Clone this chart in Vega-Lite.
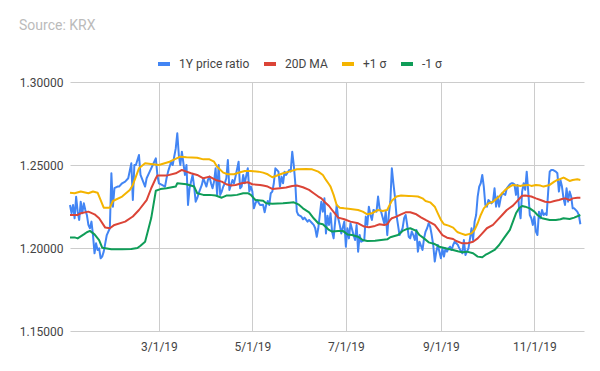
{
"$schema":"https://vega.github.io/schema/vega-lite/v6.json",
"width":514,"height":249,
"autosize":{"type":"none"},
"padding":{"left":70,"top":82,"right":16,"bottom":40},
"background":"white",
"config":{"font":"Roboto","view":{"stroke":null},
 "axis":{"labelFont":"Roboto","labelFontSize":12,"labelColor":"#444444","gridColor":"#cccccc","gridWidth":1,"domain":false,"ticks":false,"title":null},
 "legend":{"labelFont":"Roboto","labelFontSize":12,"labelColor":"#444444","title":null,"gridAlign":"none"}},
"title":{"text":"Source: KRX","anchor":"start","frame":"group","dx":-51,"offset":23,"fontSize":14,"fontWeight":"normal","color":"#bbbbbb","font":"Roboto"},
"datasets":{
"ratio":[
{"d":"2019-01-02","v":1.2259},{"d":"2019-01-03","v":1.2209},{"d":"2019-01-04","v":1.2259},{"d":"2019-01-05","v":1.2179},{"d":"2019-01-06","v":1.2309},{"d":"2019-01-07","v":1.2219},{"d":"2019-01-08","v":1.2169},{"d":"2019-01-09","v":1.2279},{"d":"2019-01-10","v":1.2209},{"d":"2019-01-11","v":1.2269},{"d":"2019-01-12","v":1.2229},{"d":"2019-01-13","v":1.2199},{"d":"2019-01-14","v":1.2139},{"d":"2019-01-15","v":1.2119},{"d":"2019-01-16","v":1.2159},{"d":"2019-01-17","v":1.2078},{"d":"2019-01-18","v":1.1968},{"d":"2019-01-19","v":1.2028},{"d":"2019-01-20","v":1.1988},{"d":"2019-01-21","v":1.1998},{"d":"2019-01-22","v":1.1938},{"d":"2019-01-23","v":1.1948},{"d":"2019-01-24","v":1.1978},{"d":"2019-01-25","v":1.2028},{"d":"2019-01-26","v":1.2078},{"d":"2019-01-28","v":1.2119},{"d":"2019-01-29","v":1.2450},{"d":"2019-01-30","v":1.2249},{"d":"2019-01-31","v":1.2360},{"d":"2019-02-02","v":1.2370},{"d":"2019-02-03","v":1.2370},{"d":"2019-02-05","v":1.2390},{"d":"2019-02-07","v":1.2400},{"d":"2019-02-09","v":1.2420},{"d":"2019-02-11","v":1.2510},{"d":"2019-02-12","v":1.2289},{"d":"2019-02-13","v":1.2500},{"d":"2019-02-14","v":1.2500},{"d":"2019-02-16","v":1.2560},{"d":"2019-02-17","v":1.2440},{"d":"2019-02-20","v":1.2370},{"d":"2019-02-21","v":1.2420},{"d":"2019-02-23","v":1.2460},{"d":"2019-02-25","v":1.2500},{"d":"2019-02-27","v":1.2540},{"d":"2019-02-28","v":1.2440},{"d":"2019-03-01","v":1.2390},{"d":"2019-03-03","v":1.2380},{"d":"2019-03-05","v":1.2370},{"d":"2019-03-06","v":1.2420},{"d":"2019-03-07","v":1.2460},{"d":"2019-03-09","v":1.2520},{"d":"2019-03-10","v":1.2500},{"d":"2019-03-12","v":1.2600},{"d":"2019-03-13","v":1.2691},{"d":"2019-03-14","v":1.2560},{"d":"2019-03-15","v":1.2500},{"d":"2019-03-16","v":1.2580},{"d":"2019-03-18","v":1.2440},{"d":"2019-03-19","v":1.2500},{"d":"2019-03-20","v":1.2259},{"d":"2019-03-21","v":1.2360},{"d":"2019-03-23","v":1.2440},{"d":"2019-03-24","v":1.2370},{"d":"2019-03-25","v":1.2279},{"d":"2019-03-26","v":1.2300},{"d":"2019-03-27","v":1.2330},{"d":"2019-03-29","v":1.2380},{"d":"2019-03-30","v":1.2420},{"d":"2019-04-01","v":1.2370},{"d":"2019-04-02","v":1.2410},{"d":"2019-04-03","v":1.2430},{"d":"2019-04-04","v":1.2390},{"d":"2019-04-05","v":1.2360},{"d":"2019-04-06","v":1.2400},{"d":"2019-04-07","v":1.2480},{"d":"2019-04-08","v":1.2320},{"d":"2019-04-09","v":1.2500},{"d":"2019-04-10","v":1.2320},{"d":"2019-04-11","v":1.2340},{"d":"2019-04-12","v":1.2370},{"d":"2019-04-13","v":1.2390},{"d":"2019-04-14","v":1.2420},{"d":"2019-04-15","v":1.2530},{"d":"2019-04-16","v":1.2350},{"d":"2019-04-17","v":1.2380},{"d":"2019-04-18","v":1.2410},{"d":"2019-04-19","v":1.2390},{"d":"2019-04-20","v":1.2430},{"d":"2019-04-22","v":1.2520},{"d":"2019-04-23","v":1.2360},{"d":"2019-04-24","v":1.2370},{"d":"2019-04-25","v":1.2440},{"d":"2019-04-26","v":1.2390},{"d":"2019-04-28","v":1.2480},{"d":"2019-04-29","v":1.2340},{"d":"2019-04-30","v":1.2370},{"d":"2019-05-01","v":1.2340},{"d":"2019-05-02","v":1.2239},{"d":"2019-05-03","v":1.2269},{"d":"2019-05-04","v":1.2289},{"d":"2019-05-06","v":1.2259},{"d":"2019-05-08","v":1.2260},{"d":"2019-05-09","v":1.2215},{"d":"2019-05-10","v":1.2259},{"d":"2019-05-11","v":1.2283},{"d":"2019-05-12","v":1.2259},{"d":"2019-05-13","v":1.2330},{"d":"2019-05-14","v":1.2340},{"d":"2019-05-15","v":1.2390},{"d":"2019-05-16","v":1.2480},{"d":"2019-05-17","v":1.2470},{"d":"2019-05-18","v":1.2460},{"d":"2019-05-19","v":1.2370},{"d":"2019-05-20","v":1.2430},{"d":"2019-05-21","v":1.2390},{"d":"2019-05-22","v":1.2460},{"d":"2019-05-23","v":1.2440},{"d":"2019-05-25","v":1.2470},{"d":"2019-05-26","v":1.2460},{"d":"2019-05-27","v":1.2580},{"d":"2019-05-28","v":1.2500},{"d":"2019-05-29","v":1.2390},{"d":"2019-05-30","v":1.2219},{"d":"2019-05-31","v":1.2199},{"d":"2019-06-02","v":1.2189},{"d":"2019-06-03","v":1.2173},{"d":"2019-06-04","v":1.2183},{"d":"2019-06-06","v":1.2159},{"d":"2019-06-07","v":1.2169},{"d":"2019-06-09","v":1.2149},{"d":"2019-06-10","v":1.2139},{"d":"2019-06-11","v":1.2119},{"d":"2019-06-12","v":1.2068},{"d":"2019-06-13","v":1.2119},{"d":"2019-06-14","v":1.2199},{"d":"2019-06-15","v":1.2279},{"d":"2019-06-16","v":1.2219},{"d":"2019-06-17","v":1.2299},{"d":"2019-06-18","v":1.2088},{"d":"2019-06-19","v":1.2195},{"d":"2019-06-20","v":1.2139},{"d":"2019-06-21","v":1.2209},{"d":"2019-06-22","v":1.2099},{"d":"2019-06-23","v":1.2058},{"d":"2019-06-24","v":1.2159},{"d":"2019-06-25","v":1.2259},{"d":"2019-06-26","v":1.2179},{"d":"2019-06-27","v":1.2139},{"d":"2019-06-28","v":1.2088},{"d":"2019-06-30","v":1.2159},{"d":"2019-07-01","v":1.2008},{"d":"2019-07-02","v":1.2119},{"d":"2019-07-03","v":1.2058},{"d":"2019-07-04","v":1.2149},{"d":"2019-07-06","v":1.2078},{"d":"2019-07-07","v":1.2048},{"d":"2019-07-08","v":1.2139},{"d":"2019-07-09","v":1.1978},{"d":"2019-07-10","v":1.2078},{"d":"2019-07-11","v":1.2038},{"d":"2019-07-13","v":1.2048},{"d":"2019-07-14","v":1.2189},{"d":"2019-07-15","v":1.2139},{"d":"2019-07-16","v":1.2249},{"d":"2019-07-17","v":1.2199},{"d":"2019-07-18","v":1.2169},{"d":"2019-07-19","v":1.2229},{"d":"2019-07-21","v":1.2219},{"d":"2019-07-22","v":1.2310},{"d":"2019-07-23","v":1.2239},{"d":"2019-07-24","v":1.2219},{"d":"2019-07-26","v":1.2149},{"d":"2019-07-27","v":1.2219},{"d":"2019-07-28","v":1.2078},{"d":"2019-07-29","v":1.2199},{"d":"2019-07-30","v":1.2279},{"d":"2019-07-31","v":1.2480},{"d":"2019-08-01","v":1.2390},{"d":"2019-08-02","v":1.2310},{"d":"2019-08-03","v":1.2199},{"d":"2019-08-04","v":1.2139},{"d":"2019-08-05","v":1.2078},{"d":"2019-08-07","v":1.2119},{"d":"2019-08-08","v":1.2179},{"d":"2019-08-09","v":1.2199},{"d":"2019-08-10","v":1.2139},{"d":"2019-08-11","v":1.2068},{"d":"2019-08-12","v":1.2058},{"d":"2019-08-13","v":1.2099},{"d":"2019-08-14","v":1.2078},{"d":"2019-08-15","v":1.2048},{"d":"2019-08-16","v":1.2109},{"d":"2019-08-17","v":1.1978},{"d":"2019-08-18","v":1.2038},{"d":"2019-08-20","v":1.1988},{"d":"2019-08-21","v":1.2058},{"d":"2019-08-22","v":1.2099},{"d":"2019-08-23","v":1.2119},{"d":"2019-08-24","v":1.2149},{"d":"2019-08-25","v":1.2129},{"d":"2019-08-26","v":1.2078},{"d":"2019-08-27","v":1.2018},{"d":"2019-08-28","v":1.1918},{"d":"2019-08-29","v":1.1978},{"d":"2019-08-30","v":1.2018},{"d":"2019-09-01","v":1.1938},{"d":"2019-09-02","v":1.1998},{"d":"2019-09-03","v":1.1948},{"d":"2019-09-04","v":1.1998},{"d":"2019-09-05","v":1.1978},{"d":"2019-09-06","v":1.1998},{"d":"2019-09-07","v":1.2008},{"d":"2019-09-08","v":1.1988},{"d":"2019-09-09","v":1.2018},{"d":"2019-09-10","v":1.2038},{"d":"2019-09-12","v":1.2020},{"d":"2019-09-13","v":1.1998},{"d":"2019-09-15","v":1.1968},{"d":"2019-09-16","v":1.2048},{"d":"2019-09-17","v":1.1958},{"d":"2019-09-18","v":1.1978},{"d":"2019-09-19","v":1.1998},{"d":"2019-09-20","v":1.2058},{"d":"2019-09-21","v":1.2119},{"d":"2019-09-22","v":1.2048},{"d":"2019-09-23","v":1.2159},{"d":"2019-09-24","v":1.2199},{"d":"2019-09-25","v":1.2310},{"d":"2019-09-26","v":1.2370},{"d":"2019-09-27","v":1.2390},{"d":"2019-09-28","v":1.2440},{"d":"2019-09-29","v":1.2370},{"d":"2019-09-30","v":1.2259},{"d":"2019-10-01","v":1.2249},{"d":"2019-10-02","v":1.2289},{"d":"2019-10-04","v":1.2269},{"d":"2019-10-05","v":1.2279},{"d":"2019-10-06","v":1.2360},{"d":"2019-10-07","v":1.2249},{"d":"2019-10-08","v":1.2310},{"d":"2019-10-09","v":1.2249},{"d":"2019-10-10","v":1.2299},{"d":"2019-10-11","v":1.2330},{"d":"2019-10-13","v":1.2320},{"d":"2019-10-14","v":1.2360},{"d":"2019-10-16","v":1.2384},{"d":"2019-10-17","v":1.2390},{"d":"2019-10-18","v":1.2390},{"d":"2019-10-19","v":1.2384},{"d":"2019-10-20","v":1.2320},{"d":"2019-10-21","v":1.2380},{"d":"2019-10-22","v":1.2239},{"d":"2019-10-23","v":1.2179},{"d":"2019-10-24","v":1.2340},{"d":"2019-10-25","v":1.2390},{"d":"2019-10-26","v":1.2350},{"d":"2019-10-27","v":1.2460},{"d":"2019-10-28","v":1.2340},{"d":"2019-10-29","v":1.2199},{"d":"2019-10-30","v":1.2179},{"d":"2019-10-31","v":1.2139},{"d":"2019-11-01","v":1.2189},{"d":"2019-11-02","v":1.2099},{"d":"2019-11-03","v":1.2078},{"d":"2019-11-04","v":1.2219},{"d":"2019-11-05","v":1.2179},{"d":"2019-11-06","v":1.2229},{"d":"2019-11-07","v":1.2199},{"d":"2019-11-08","v":1.2209},{"d":"2019-11-09","v":1.2199},{"d":"2019-11-10","v":1.2340},{"d":"2019-11-11","v":1.2460},{"d":"2019-11-12","v":1.2470},{"d":"2019-11-13","v":1.2470},{"d":"2019-11-15","v":1.2460},{"d":"2019-11-16","v":1.2450},{"d":"2019-11-17","v":1.2340},{"d":"2019-11-18","v":1.2410},{"d":"2019-11-19","v":1.2370},{"d":"2019-11-20","v":1.2299},{"d":"2019-11-21","v":1.2259},{"d":"2019-11-22","v":1.2360},{"d":"2019-11-23","v":1.2279},{"d":"2019-11-24","v":1.2340},{"d":"2019-11-25","v":1.2310},{"d":"2019-11-26","v":1.2239},{"d":"2019-11-27","v":1.2239},{"d":"2019-11-29","v":1.2219},{"d":"2019-11-30","v":1.2199},{"d":"2019-12-01","v":1.2143}
],
"bands":[
{"d":"2019-01-02","s":"20D MA","v":1.2199},{"d":"2019-01-07","s":"20D MA","v":1.2199},{"d":"2019-01-09","s":"20D MA","v":1.2209},{"d":"2019-01-14","s":"20D MA","v":1.2219},{"d":"2019-01-18","s":"20D MA","v":1.2203},{"d":"2019-01-21","s":"20D MA","v":1.2179},{"d":"2019-01-25","s":"20D MA","v":1.2123},{"d":"2019-01-28","s":"20D MA","v":1.2119},{"d":"2019-01-31","s":"20D MA","v":1.2139},{"d":"2019-02-07","s":"20D MA","v":1.2159},{"d":"2019-02-12","s":"20D MA","v":1.2190},{"d":"2019-02-16","s":"20D MA","v":1.2229},{"d":"2019-02-21","s":"20D MA","v":1.2289},{"d":"2019-02-24","s":"20D MA","v":1.2360},{"d":"2019-02-27","s":"20D MA","v":1.2420},{"d":"2019-02-28","s":"20D MA","v":1.2436},{"d":"2019-03-06","s":"20D MA","v":1.2436},{"d":"2019-03-12","s":"20D MA","v":1.2450},{"d":"2019-03-16","s":"20D MA","v":1.2470},{"d":"2019-03-19","s":"20D MA","v":1.2460},{"d":"2019-03-22","s":"20D MA","v":1.2450},{"d":"2019-03-26","s":"20D MA","v":1.2440},{"d":"2019-03-30","s":"20D MA","v":1.2420},{"d":"2019-04-03","s":"20D MA","v":1.2430},{"d":"2019-04-07","s":"20D MA","v":1.2410},{"d":"2019-04-11","s":"20D MA","v":1.2400},{"d":"2019-04-14","s":"20D MA","v":1.2384},{"d":"2019-04-17","s":"20D MA","v":1.2376},{"d":"2019-04-20","s":"20D MA","v":1.2380},{"d":"2019-04-24","s":"20D MA","v":1.2390},{"d":"2019-04-28","s":"20D MA","v":1.2396},{"d":"2019-05-01","s":"20D MA","v":1.2384},{"d":"2019-05-06","s":"20D MA","v":1.2380},{"d":"2019-05-08","s":"20D MA","v":1.2376},{"d":"2019-05-11","s":"20D MA","v":1.2370},{"d":"2019-05-14","s":"20D MA","v":1.2356},{"d":"2019-05-19","s":"20D MA","v":1.2360},{"d":"2019-05-23","s":"20D MA","v":1.2364},{"d":"2019-05-27","s":"20D MA","v":1.2374},{"d":"2019-05-30","s":"20D MA","v":1.2376},{"d":"2019-06-03","s":"20D MA","v":1.2366},{"d":"2019-06-07","s":"20D MA","v":1.2350},{"d":"2019-06-10","s":"20D MA","v":1.2330},{"d":"2019-06-13","s":"20D MA","v":1.2310},{"d":"2019-06-15","s":"20D MA","v":1.2299},{"d":"2019-06-17","s":"20D MA","v":1.2279},{"d":"2019-06-20","s":"20D MA","v":1.2253},{"d":"2019-06-22","s":"20D MA","v":1.2229},{"d":"2019-06-26","s":"20D MA","v":1.2183},{"d":"2019-06-30","s":"20D MA","v":1.2173},{"d":"2019-07-04","s":"20D MA","v":1.2159},{"d":"2019-07-09","s":"20D MA","v":1.2149},{"d":"2019-07-13","s":"20D MA","v":1.2129},{"d":"2019-07-16","s":"20D MA","v":1.2125},{"d":"2019-07-20","s":"20D MA","v":1.2133},{"d":"2019-07-23","s":"20D MA","v":1.2143},{"d":"2019-07-26","s":"20D MA","v":1.2139},{"d":"2019-07-28","s":"20D MA","v":1.2143},{"d":"2019-07-30","s":"20D MA","v":1.2170},{"d":"2019-07-31","s":"20D MA","v":1.2179},{"d":"2019-08-03","s":"20D MA","v":1.2189},{"d":"2019-08-06","s":"20D MA","v":1.2203},{"d":"2019-08-09","s":"20D MA","v":1.2215},{"d":"2019-08-12","s":"20D MA","v":1.2215},{"d":"2019-08-16","s":"20D MA","v":1.2203},{"d":"2019-08-19","s":"20D MA","v":1.2185},{"d":"2019-08-22","s":"20D MA","v":1.2169},{"d":"2019-08-25","s":"20D MA","v":1.2155},{"d":"2019-08-28","s":"20D MA","v":1.2139},{"d":"2019-08-30","s":"20D MA","v":1.2115},{"d":"2019-09-02","s":"20D MA","v":1.2078},{"d":"2019-09-05","s":"20D MA","v":1.2062},{"d":"2019-09-09","s":"20D MA","v":1.2054},{"d":"2019-09-11","s":"20D MA","v":1.2042},{"d":"2019-09-15","s":"20D MA","v":1.2028},{"d":"2019-09-18","s":"20D MA","v":1.2028},{"d":"2019-09-22","s":"20D MA","v":1.2038},{"d":"2019-09-25","s":"20D MA","v":1.2058},{"d":"2019-09-28","s":"20D MA","v":1.2088},{"d":"2019-10-01","s":"20D MA","v":1.2119},{"d":"2019-10-05","s":"20D MA","v":1.2139},{"d":"2019-10-08","s":"20D MA","v":1.2169},{"d":"2019-10-11","s":"20D MA","v":1.2199},{"d":"2019-10-14","s":"20D MA","v":1.2229},{"d":"2019-10-18","s":"20D MA","v":1.2255},{"d":"2019-10-20","s":"20D MA","v":1.2275},{"d":"2019-10-22","s":"20D MA","v":1.2295},{"d":"2019-10-24","s":"20D MA","v":1.2315},{"d":"2019-10-26","s":"20D MA","v":1.2316},{"d":"2019-10-30","s":"20D MA","v":1.2310},{"d":"2019-11-02","s":"20D MA","v":1.2299},{"d":"2019-11-05","s":"20D MA","v":1.2289},{"d":"2019-11-08","s":"20D MA","v":1.2279},{"d":"2019-11-11","s":"20D MA","v":1.2275},{"d":"2019-11-14","s":"20D MA","v":1.2283},{"d":"2019-11-17","s":"20D MA","v":1.2289},{"d":"2019-11-19","s":"20D MA","v":1.2295},{"d":"2019-11-21","s":"20D MA","v":1.2299},{"d":"2019-11-24","s":"20D MA","v":1.2289},{"d":"2019-11-26","s":"20D MA","v":1.2299},{"d":"2019-11-29","s":"20D MA","v":1.2303},{"d":"2019-12-01","s":"20D MA","v":1.2303},
{"d":"2019-01-02","s":"+1 σ","v":1.2333},{"d":"2019-01-05","s":"+1 σ","v":1.2330},{"d":"2019-01-09","s":"+1 σ","v":1.2340},{"d":"2019-01-14","s":"+1 σ","v":1.2330},{"d":"2019-01-17","s":"+1 σ","v":1.2340},{"d":"2019-01-20","s":"+1 σ","v":1.2333},{"d":"2019-01-22","s":"+1 σ","v":1.2289},{"d":"2019-01-24","s":"+1 σ","v":1.2243},{"d":"2019-01-28","s":"+1 σ","v":1.2243},{"d":"2019-01-30","s":"+1 σ","v":1.2283},{"d":"2019-02-05","s":"+1 σ","v":1.2310},{"d":"2019-02-10","s":"+1 σ","v":1.2350},{"d":"2019-02-12","s":"+1 σ","v":1.2380},{"d":"2019-02-16","s":"+1 σ","v":1.2480},{"d":"2019-02-20","s":"+1 σ","v":1.2510},{"d":"2019-02-25","s":"+1 σ","v":1.2504},{"d":"2019-03-01","s":"+1 σ","v":1.2500},{"d":"2019-03-08","s":"+1 σ","v":1.2520},{"d":"2019-03-15","s":"+1 σ","v":1.2550},{"d":"2019-03-19","s":"+1 σ","v":1.2546},{"d":"2019-03-26","s":"+1 σ","v":1.2544},{"d":"2019-03-30","s":"+1 σ","v":1.2534},{"d":"2019-04-03","s":"+1 σ","v":1.2534},{"d":"2019-04-06","s":"+1 σ","v":1.2520},{"d":"2019-04-08","s":"+1 σ","v":1.2490},{"d":"2019-04-12","s":"+1 σ","v":1.2454},{"d":"2019-04-15","s":"+1 σ","v":1.2444},{"d":"2019-04-19","s":"+1 σ","v":1.2444},{"d":"2019-04-23","s":"+1 σ","v":1.2456},{"d":"2019-04-26","s":"+1 σ","v":1.2464},{"d":"2019-04-30","s":"+1 σ","v":1.2464},{"d":"2019-05-05","s":"+1 σ","v":1.2460},{"d":"2019-05-08","s":"+1 σ","v":1.2454},{"d":"2019-05-11","s":"+1 σ","v":1.2444},{"d":"2019-05-14","s":"+1 σ","v":1.2426},{"d":"2019-05-18","s":"+1 σ","v":1.2440},{"d":"2019-05-21","s":"+1 σ","v":1.2450},{"d":"2019-05-25","s":"+1 σ","v":1.2460},{"d":"2019-05-30","s":"+1 σ","v":1.2474},{"d":"2019-06-05","s":"+1 σ","v":1.2476},{"d":"2019-06-09","s":"+1 σ","v":1.2474},{"d":"2019-06-13","s":"+1 σ","v":1.2460},{"d":"2019-06-16","s":"+1 σ","v":1.2440},{"d":"2019-06-18","s":"+1 σ","v":1.2410},{"d":"2019-06-20","s":"+1 σ","v":1.2384},{"d":"2019-06-21","s":"+1 σ","v":1.2370},{"d":"2019-06-23","s":"+1 σ","v":1.2320},{"d":"2019-06-25","s":"+1 σ","v":1.2259},{"d":"2019-06-27","s":"+1 σ","v":1.2243},{"d":"2019-06-30","s":"+1 σ","v":1.2239},{"d":"2019-07-04","s":"+1 σ","v":1.2235},{"d":"2019-07-09","s":"+1 σ","v":1.2229},{"d":"2019-07-12","s":"+1 σ","v":1.2219},{"d":"2019-07-15","s":"+1 σ","v":1.2203},{"d":"2019-07-18","s":"+1 σ","v":1.2209},{"d":"2019-07-22","s":"+1 σ","v":1.2229},{"d":"2019-07-25","s":"+1 σ","v":1.2223},{"d":"2019-07-28","s":"+1 σ","v":1.2229},{"d":"2019-07-29","s":"+1 σ","v":1.2249},{"d":"2019-07-31","s":"+1 σ","v":1.2285},{"d":"2019-08-03","s":"+1 σ","v":1.2310},{"d":"2019-08-06","s":"+1 σ","v":1.2316},{"d":"2019-08-11","s":"+1 σ","v":1.2314},{"d":"2019-08-17","s":"+1 σ","v":1.2310},{"d":"2019-08-20","s":"+1 σ","v":1.2299},{"d":"2019-08-22","s":"+1 σ","v":1.2283},{"d":"2019-08-25","s":"+1 σ","v":1.2275},{"d":"2019-08-28","s":"+1 σ","v":1.2249},{"d":"2019-08-30","s":"+1 σ","v":1.2209},{"d":"2019-09-01","s":"+1 σ","v":1.2169},{"d":"2019-09-03","s":"+1 σ","v":1.2143},{"d":"2019-09-06","s":"+1 σ","v":1.2135},{"d":"2019-09-09","s":"+1 σ","v":1.2123},{"d":"2019-09-11","s":"+1 σ","v":1.2103},{"d":"2019-09-12","s":"+1 σ","v":1.2095},{"d":"2019-09-14","s":"+1 σ","v":1.2088},{"d":"2019-09-17","s":"+1 σ","v":1.2078},{"d":"2019-09-21","s":"+1 σ","v":1.2088},{"d":"2019-09-23","s":"+1 σ","v":1.2109},{"d":"2019-09-25","s":"+1 σ","v":1.2149},{"d":"2019-09-27","s":"+1 σ","v":1.2199},{"d":"2019-09-29","s":"+1 σ","v":1.2239},{"d":"2019-10-02","s":"+1 σ","v":1.2269},{"d":"2019-10-05","s":"+1 σ","v":1.2279},{"d":"2019-10-07","s":"+1 σ","v":1.2295},{"d":"2019-10-09","s":"+1 σ","v":1.2310},{"d":"2019-10-11","s":"+1 σ","v":1.2330},{"d":"2019-10-13","s":"+1 σ","v":1.2350},{"d":"2019-10-16","s":"+1 σ","v":1.2370},{"d":"2019-10-18","s":"+1 σ","v":1.2380},{"d":"2019-10-21","s":"+1 σ","v":1.2376},{"d":"2019-10-23","s":"+1 σ","v":1.2374},{"d":"2019-10-24","s":"+1 σ","v":1.2376},{"d":"2019-10-28","s":"+1 σ","v":1.2380},{"d":"2019-10-30","s":"+1 σ","v":1.2374},{"d":"2019-11-02","s":"+1 σ","v":1.2380},{"d":"2019-11-05","s":"+1 σ","v":1.2376},{"d":"2019-11-07","s":"+1 σ","v":1.2370},{"d":"2019-11-11","s":"+1 σ","v":1.2380},{"d":"2019-11-14","s":"+1 σ","v":1.2400},{"d":"2019-11-16","s":"+1 σ","v":1.2410},{"d":"2019-11-18","s":"+1 σ","v":1.2416},{"d":"2019-11-20","s":"+1 σ","v":1.2424},{"d":"2019-11-21","s":"+1 σ","v":1.2420},{"d":"2019-11-24","s":"+1 σ","v":1.2404},{"d":"2019-11-26","s":"+1 σ","v":1.2410},{"d":"2019-11-29","s":"+1 σ","v":1.2414},{"d":"2019-12-01","s":"+1 σ","v":1.2410},
{"d":"2019-01-02","s":"-1 σ","v":1.2064},{"d":"2019-01-05","s":"-1 σ","v":1.2064},{"d":"2019-01-07","s":"-1 σ","v":1.2058},{"d":"2019-01-11","s":"-1 σ","v":1.2082},{"d":"2019-01-13","s":"-1 σ","v":1.2095},{"d":"2019-01-15","s":"-1 σ","v":1.2103},{"d":"2019-01-18","s":"-1 σ","v":1.2082},{"d":"2019-01-21","s":"-1 σ","v":1.2048},{"d":"2019-01-23","s":"-1 σ","v":1.2002},{"d":"2019-01-29","s":"-1 σ","v":1.1992},{"d":"2019-02-05","s":"-1 σ","v":1.1992},{"d":"2019-02-11","s":"-1 σ","v":1.1994},{"d":"2019-02-15","s":"-1 σ","v":1.2000},{"d":"2019-02-17","s":"-1 σ","v":1.2014},{"d":"2019-02-20","s":"-1 σ","v":1.2038},{"d":"2019-02-22","s":"-1 σ","v":1.2108},{"d":"2019-02-24","s":"-1 σ","v":1.2180},{"d":"2019-02-26","s":"-1 σ","v":1.2290},{"d":"2019-02-27","s":"-1 σ","v":1.2345},{"d":"2019-03-02","s":"-1 σ","v":1.2355},{"d":"2019-03-06","s":"-1 σ","v":1.2360},{"d":"2019-03-12","s":"-1 σ","v":1.2370},{"d":"2019-03-13","s":"-1 σ","v":1.2390},{"d":"2019-03-19","s":"-1 σ","v":1.2384},{"d":"2019-03-24","s":"-1 σ","v":1.2370},{"d":"2019-03-26","s":"-1 σ","v":1.2330},{"d":"2019-03-30","s":"-1 σ","v":1.2320},{"d":"2019-04-03","s":"-1 σ","v":1.2320},{"d":"2019-04-07","s":"-1 σ","v":1.2316},{"d":"2019-04-11","s":"-1 σ","v":1.2303},{"d":"2019-04-14","s":"-1 σ","v":1.2316},{"d":"2019-04-17","s":"-1 σ","v":1.2316},{"d":"2019-04-21","s":"-1 σ","v":1.2320},{"d":"2019-04-25","s":"-1 σ","v":1.2330},{"d":"2019-04-28","s":"-1 σ","v":1.2330},{"d":"2019-04-30","s":"-1 σ","v":1.2320},{"d":"2019-05-03","s":"-1 σ","v":1.2289},{"d":"2019-05-08","s":"-1 σ","v":1.2285},{"d":"2019-05-10","s":"-1 σ","v":1.2269},{"d":"2019-05-14","s":"-1 σ","v":1.2267},{"d":"2019-05-21","s":"-1 σ","v":1.2269},{"d":"2019-05-25","s":"-1 σ","v":1.2273},{"d":"2019-05-28","s":"-1 σ","v":1.2275},{"d":"2019-05-31","s":"-1 σ","v":1.2263},{"d":"2019-06-03","s":"-1 σ","v":1.2239},{"d":"2019-06-07","s":"-1 σ","v":1.2215},{"d":"2019-06-10","s":"-1 σ","v":1.2179},{"d":"2019-06-13","s":"-1 σ","v":1.2149},{"d":"2019-06-16","s":"-1 σ","v":1.2143},{"d":"2019-06-20","s":"-1 σ","v":1.2109},{"d":"2019-06-22","s":"-1 σ","v":1.2099},{"d":"2019-06-26","s":"-1 σ","v":1.2103},{"d":"2019-06-29","s":"-1 σ","v":1.2103},{"d":"2019-07-02","s":"-1 σ","v":1.2082},{"d":"2019-07-05","s":"-1 σ","v":1.2078},{"d":"2019-07-09","s":"-1 σ","v":1.2068},{"d":"2019-07-12","s":"-1 σ","v":1.2048},{"d":"2019-07-15","s":"-1 σ","v":1.2042},{"d":"2019-07-20","s":"-1 σ","v":1.2044},{"d":"2019-07-24","s":"-1 σ","v":1.2048},{"d":"2019-07-28","s":"-1 σ","v":1.2052},{"d":"2019-07-30","s":"-1 σ","v":1.2065},{"d":"2019-08-04","s":"-1 σ","v":1.2078},{"d":"2019-08-07","s":"-1 σ","v":1.2103},{"d":"2019-08-10","s":"-1 σ","v":1.2115},{"d":"2019-08-12","s":"-1 σ","v":1.2119},{"d":"2019-08-16","s":"-1 σ","v":1.2103},{"d":"2019-08-18","s":"-1 σ","v":1.2078},{"d":"2019-08-21","s":"-1 σ","v":1.2058},{"d":"2019-08-24","s":"-1 σ","v":1.2034},{"d":"2019-08-28","s":"-1 σ","v":1.2024},{"d":"2019-08-31","s":"-1 σ","v":1.2008},{"d":"2019-09-04","s":"-1 σ","v":1.1998},{"d":"2019-09-09","s":"-1 σ","v":1.1988},{"d":"2019-09-12","s":"-1 σ","v":1.1980},{"d":"2019-09-15","s":"-1 σ","v":1.1974},{"d":"2019-09-18","s":"-1 σ","v":1.1978},{"d":"2019-09-22","s":"-1 σ","v":1.1968},{"d":"2019-09-25","s":"-1 σ","v":1.1948},{"d":"2019-09-28","s":"-1 σ","v":1.1944},{"d":"2019-09-30","s":"-1 σ","v":1.1958},{"d":"2019-10-02","s":"-1 σ","v":1.1968},{"d":"2019-10-06","s":"-1 σ","v":1.1988},{"d":"2019-10-09","s":"-1 σ","v":1.2018},{"d":"2019-10-12","s":"-1 σ","v":1.2058},{"d":"2019-10-16","s":"-1 σ","v":1.2109},{"d":"2019-10-18","s":"-1 σ","v":1.2159},{"d":"2019-10-20","s":"-1 σ","v":1.2209},{"d":"2019-10-22","s":"-1 σ","v":1.2239},{"d":"2019-10-24","s":"-1 σ","v":1.2253},{"d":"2019-10-26","s":"-1 σ","v":1.2249},{"d":"2019-10-29","s":"-1 σ","v":1.2239},{"d":"2019-11-01","s":"-1 σ","v":1.2219},{"d":"2019-11-03","s":"-1 σ","v":1.2199},{"d":"2019-11-06","s":"-1 σ","v":1.2179},{"d":"2019-11-11","s":"-1 σ","v":1.2169},{"d":"2019-11-15","s":"-1 σ","v":1.2169},{"d":"2019-11-18","s":"-1 σ","v":1.2173},{"d":"2019-11-20","s":"-1 σ","v":1.2179},{"d":"2019-11-24","s":"-1 σ","v":1.2175},{"d":"2019-11-27","s":"-1 σ","v":1.2183},{"d":"2019-12-01","s":"-1 σ","v":1.2199}
]},
"layer":[
{"data":{"name":"ratio"},
 "mark":{"type":"line","strokeWidth":2,"strokeJoin":"round"},
 "encoding":{
  "x":{"field":"d","type":"temporal",
   "scale":{"type":"utc","domain":[{"year":2019,"month":1,"date":2,"utc":true},{"year":2019,"month":12,"date":3,"hours":9,"utc":true}],"nice":false},
   "axis":{"values":[{"year":2019,"month":3,"date":1,"utc":true},{"year":2019,"month":5,"date":1,"utc":true},{"year":2019,"month":7,"date":1,"utc":true},{"year":2019,"month":9,"date":1,"utc":true},{"year":2019,"month":11,"date":1,"utc":true}],"format":"%-m/%-d/%y","labelPadding":10,"grid":true}},
  "y":{"field":"v","type":"quantitative",
   "scale":{"domain":[1.15,1.3],"nice":false,"zero":false},
   "axis":{"values":[1.15,1.2,1.25,1.3],"format":".5f","labelPadding":7,"grid":true}},
  "color":{"datum":"1Y price ratio","type":"nominal",
   "scale":{"domain":["1Y price ratio","20D MA","+1 σ","-1 σ"],"range":["#4285F4","#DB4437","#F4B400","#0F9D58"]},
   "legend":{"title":null,"orient":"none","legendX":86,"legendY":-26,"direction":"horizontal","symbolType":"stroke","symbolStrokeWidth":4,"symbolSize":144,"labelOffset":7,"columnPadding":6,"padding":0,"gridAlign":"none"}}
 }},
{"data":{"name":"bands"},
 "mark":{"type":"line","strokeWidth":2,"strokeJoin":"round"},
 "encoding":{
  "x":{"field":"d","type":"temporal"},
  "y":{"field":"v","type":"quantitative"},
  "color":{"field":"s","type":"nominal","legend":{"title":null}}
 }}
]
}
